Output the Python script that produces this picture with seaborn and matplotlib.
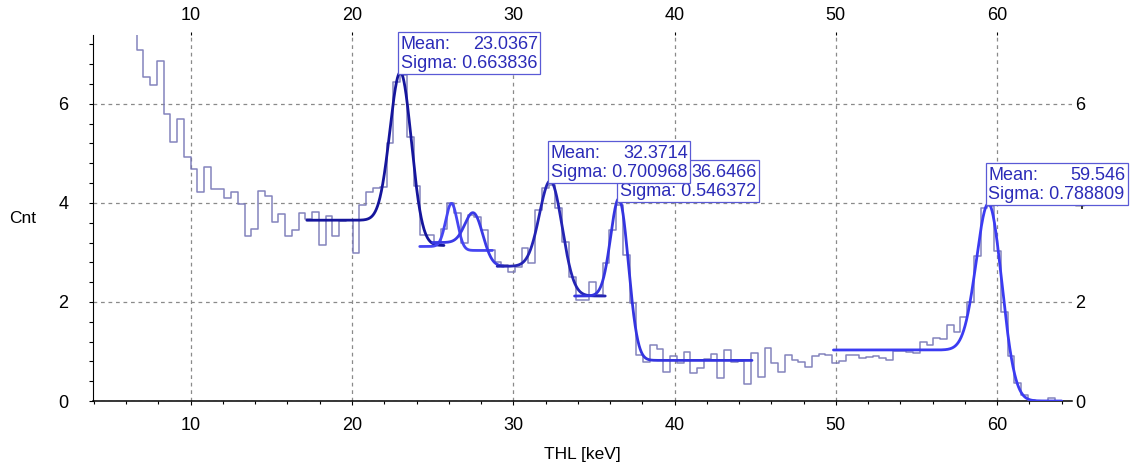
import math
import numpy as np
import matplotlib
matplotlib.use("Agg")
import matplotlib.pyplot as plt
import seaborn as sns
from matplotlib.ticker import MultipleLocator, FixedLocator
from matplotlib.patches import Rectangle

# ---------------- data ----------------
# histogram: first (clipped) bin edge, regular bin range, bin contents
clip_bin_left = 6.23
hist_first_edge = 6.65
hist_last_edge = 64.0
counts = [
    8.00,
    7.09, 6.55, 6.38, 6.86, 5.79, 5.22, 5.70, 4.93, 4.68, 4.21,
    4.73, 4.28, 4.28, 4.09, 4.23, 3.98, 3.33, 3.47, 4.25, 4.14,
    3.61, 3.77, 3.33, 3.45, 3.79, 3.68, 3.82, 3.14, 3.74, 3.34,
    3.63, 3.66, 2.98, 3.95, 4.22, 4.31, 4.33, 5.20, 6.45, 6.59,
    5.33, 4.35, 3.35, 3.35, 3.15, 3.47, 3.99, 3.79, 3.20, 3.76,
    3.72, 3.45, 3.05, 2.81, 2.74, 2.61, 2.71, 3.08, 2.78, 3.86,
    4.30, 4.36, 3.89, 3.22, 2.51, 2.04, 2.04, 2.41, 2.14, 2.78,
    3.45, 3.96, 2.95, 1.97, 0.93, 0.79, 1.14, 1.04, 0.59, 0.91,
    0.76, 0.98, 0.57, 0.66, 0.84, 0.94, 0.46, 1.02, 0.79, 0.81,
    0.34, 0.96, 0.48, 1.08, 0.77, 0.58, 0.93, 0.83, 0.79, 0.69,
    0.91, 0.95, 0.93, 0.77, 0.80, 0.93, 0.93, 0.86, 0.89, 0.90,
    0.86, 0.83, 1.00, 1.00, 0.98, 0.96, 1.19, 1.13, 1.28, 1.25,
    1.53, 1.40, 1.70, 2.00, 2.92, 3.89, 3.93, 3.02, 1.79, 0.90,
    0.36, 0.12, 0.03, 0.00, 0.00, 0.07, 0.00,
]

# fit functions: gaussian + step background (parameters)
fit_mean = [23.0367, 26.18, 27.62, 32.3714, 36.6466, 59.546]
fit_sigma = [0.663836, 0.36, 0.55, 0.700968, 0.546372, 0.788809]
fit_amp = [3.235, 0.91, 0.82, 2.01, 2.56, 3.445]
fit_bg = [3.14, 3.04, 2.72, 2.12, 0.82, 0.00]
fit_step = [0.51, 0.08, 0.48, 0.60, 1.30, 1.03]
fit_lo = [17.2, 24.2, 25.0, 29.0, 33.8, 49.85]
fit_hi = [25.7, 28.7, 29.4, 35.7, 44.8, 64.0]

# stats boxes
box_mean_txt = ["23.0367", "36.6466", "32.3714", "59.546"]
box_sigma_txt = ["0.663836", "0.546372", "0.700968", "0.788809"]

x_ticks = [10, 20, 30, 40, 50, 60]
y_ticks = [0, 2, 4, 6]

# ---------------- style ----------------
fit_colors = ["#15159c", "#4646f2", "#3a3ae6", "#2424b4", "#3434e0", "#3b3bf2"]
hist_color = "#7676b6"
box_pos = [(22.87, 6.606), (36.45, 4.026), (32.17, 4.410), (59.29, 3.960)]
box_z = [6, 6.5, 7, 6]

sns.set_theme(style="white")
plt.rcParams["font.family"] = ["Liberation Sans", "DejaVu Sans"]

W, H = 1132, 466
fig = plt.figure(figsize=(W / 100, H / 100), dpi=100)
L, R, T, B = 93.3, 1072.0, 35.0, 401.0
ax = fig.add_axes([L / W, (H - B) / H, (R - L) / W, (B - T) / H])
ax.set_facecolor("white")

xlim = (3.96, 64.64)
ylim = (0.0, 7.39)

# histogram as steps
edges = np.concatenate([[clip_bin_left], np.linspace(hist_first_edge, hist_last_edge, len(counts))])
yvals = np.append(np.array(counts), counts[-1])
sns.lineplot(x=edges, y=yvals, drawstyle="steps-post", estimator=None, sort=False,
             color=hist_color, linewidth=1.1, alpha=0.9, ax=ax, zorder=3)

erfc = np.vectorize(math.erfc)
for i in range(len(fit_mean)):
    xs = np.linspace(fit_lo[i], fit_hi[i], 700)
    z = (xs - fit_mean[i]) / fit_sigma[i]
    ys = fit_bg[i] + fit_step[i] * 0.5 * erfc(z / math.sqrt(2)) + fit_amp[i] * np.exp(-0.5 * z * z)
    sns.lineplot(x=xs, y=ys, estimator=None, sort=False, color=fit_colors[i],
                 linewidth=2.0, ax=ax, zorder=4)

ax.set_xlim(*xlim)
ax.set_ylim(*ylim)

# grid
ax.set_axisbelow(True)
ax.grid(True, which="major", color="#8a8a8a", linestyle=(0, (3, 3)), linewidth=0.9)

# spines
for s in ["top", "right"]:
    ax.spines[s].set_visible(False)
ax.spines["bottom"].set_color("black")
ax.spines["bottom"].set_linewidth(1.1)
ax.spines["left"].set_color("black")
ax.spines["left"].set_linewidth(0.8)

# ticks
ax.xaxis.set_major_locator(FixedLocator(x_ticks))
ax.xaxis.set_minor_locator(MultipleLocator(2))
ax.yaxis.set_major_locator(FixedLocator(y_ticks))
ax.yaxis.set_minor_locator(MultipleLocator(0.4))
ax.tick_params(axis="x", which="major", bottom=True, top=False, direction="out",
               length=3.2, width=0.8, color="black", labelsize=13, pad=8, labelcolor="black")
ax.tick_params(axis="x", which="minor", bottom=True, top=False, direction="out",
               length=2.5, width=0.8, color="black")
ax.tick_params(axis="y", which="major", left=True, right=False, direction="out",
               length=2.8, width=0.8, color="black", labelsize=13, pad=15, labelcolor="black")
ax.tick_params(axis="y", which="minor", left=True, right=False, direction="out",
               length=2.8, width=0.8, color="black")

secx = ax.secondary_xaxis("top")
secx.set_xticks(x_ticks)
secx.tick_params(axis="x", direction="out", length=2.2, width=0.8, color="black",
                 labelsize=13, pad=5.5, labelcolor="black")
secx.spines["top"].set_visible(False)

secy = ax.secondary_yaxis("right")
secy.set_yticks(y_ticks)
secy.tick_params(axis="y", length=0, labelsize=13, pad=2, labelcolor="black")
secy.spines["right"].set_visible(False)

# labels
ax.set_xlabel("THL [keV]", fontsize=12.5, color="black")
ax.xaxis.set_label_coords(0.5, -0.1475)
ax.xaxis.label.set_va("center")
ax.set_ylabel("Cnt", fontsize=12.5, color="black", rotation=0)
ax.yaxis.set_label_coords(-0.0718, 0.5)
ax.yaxis.label.set_va("center")
ax.yaxis.label.set_ha("center")

# stats boxes
bb = ax.get_window_extent()
ppx = bb.width / (xlim[1] - xlim[0])
ppy = bb.height / (ylim[1] - ylim[0])
bw, bh = 142 / ppx, 42 / ppy
text_col = "#2b2bb8"
edge_col = "#5a5ad6"
for (bx, by), mtxt, stxt, zz in zip(box_pos, box_mean_txt, box_sigma_txt, box_z):
    ax.add_patch(Rectangle((bx, by), bw, bh, facecolor="white", edgecolor=edge_col,
                           linewidth=0.9, zorder=zz, clip_on=False))
    ax.text(bx + 2.5 / ppx, by + 24.5 / ppy, "Mean:", ha="left", va="baseline",
            fontsize=13, color=text_col, zorder=zz + 0.1, clip_on=False)
    ax.text(bx + bw - 2.5 / ppx, by + 24.5 / ppy, mtxt, ha="right", va="baseline",
            fontsize=13, color=text_col, zorder=zz + 0.1, clip_on=False)
    ax.text(bx + 2.5 / ppx, by + 5.5 / ppy, "Sigma: " + stxt, ha="left", va="baseline",
            fontsize=13, color=text_col, zorder=zz + 0.1, clip_on=False)

fig.savefig("out.png", dpi=100, facecolor="white")
